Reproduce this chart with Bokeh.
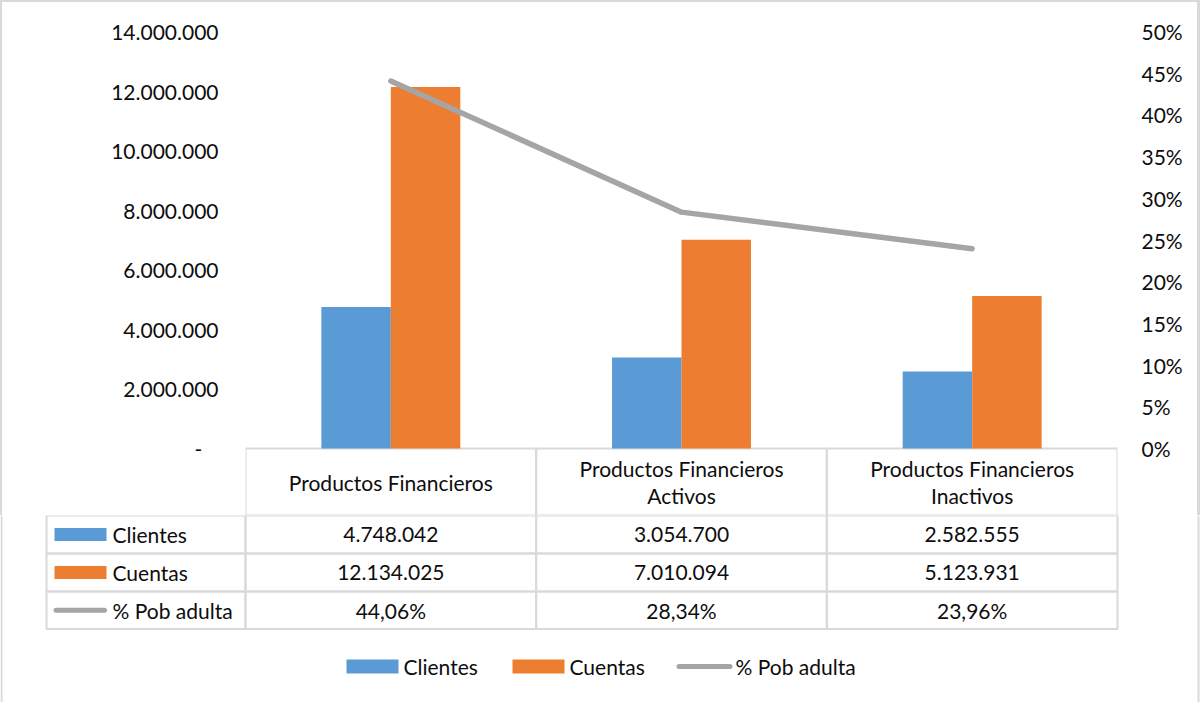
from bokeh.plotting import figure
from bokeh.models import (FactorRange, Range1d, LinearAxis, FixedTicker,
                          ColumnDataSource)
from bokeh.core.properties import value
from bokeh.layouts import column
from bokeh.transform import dodge
from bokeh.embed import file_html
from bokeh.resources import INLINE

# ---------------- data ----------------
categories = ["Productos Financieros",
              "Productos Financieros Activos",
              "Productos Financieros Inactivos"]
clientes = [4748042, 3054700, 2582555]
cuentas = [12134025, 7010094, 5123931]
pob_adulta = [44.06, 28.34, 23.96]
series_names = ["Clientes", "Cuentas", "% Pob adulta"]
left_ticks = [0, 2000000, 4000000, 6000000, 8000000, 10000000, 12000000, 14000000]
right_ticks = [0, 5, 10, 15, 20, 25, 30, 35, 40, 45, 50]

# ---------------- style / layout ----------------
BLUE, ORANGE, GRAY = "#5b9bd5", "#ed7d31", "#a5a5a5"
GRID = "#d9d9d9"
TXT = "#0d0d0d"
FONT = "Lato"
FS = "21px"

W, H = 1200, 702
FL, FR, FT, FB = 245, 1117, 31, 448      # plot frame (px)
HB = 515                                  # bottom of table header row
Y_MAX, P_MAX = 14000000, 50
ext = (HB - FB) / (FB - FT)


def fmt_int(v):
    return "-" if v == 0 else f"{v:,}".replace(",", ".")


def fmt_pct(v):
    return f"{v:.2f}".replace(".", ",") + "%"


# ================= top figure: chart + header row =================
p = figure(width=W, height=HB, x_range=FactorRange(*categories),
           y_range=Range1d(-Y_MAX * ext, Y_MAX), output_backend="svg",
           toolbar_location=None, x_axis_location=None,
           min_border_left=FL, min_border_right=W - FR,
           min_border_top=FT, min_border_bottom=0)
p.frame_align = False
p.x_range.range_padding = 0
p.grid.visible = False
p.outline_line_color = None
p.background_fill_color = "white"
p.border_fill_color = None
p.styles = {"box-shadow": f"inset 2px 2px 0 0 {GRID}, inset -3px 0 0 0 {GRID}"}
p.extra_y_ranges = {"pct": Range1d(-P_MAX * ext, P_MAX), "px": Range1d(HB, FT)}

ya = p.yaxis[0]
ya.ticker = FixedTicker(ticks=left_ticks)
# accounting-style zero: dash padded away from the plot edge
ya.major_label_overrides = {t: (fmt_int(t) + "\u00a0\u00a0\u00a0" if t == 0 else fmt_int(t))
                            for t in left_ticks}
ya.axis_line_color = None
ya.major_tick_line_color = None
ya.minor_tick_line_color = None
ya.major_tick_out = 0
ya.major_tick_in = 0
ya.major_label_standoff = 27
ya.major_label_text_font = FONT
ya.major_label_text_font_size = FS
ya.major_label_text_color = TXT

ra = LinearAxis(y_range_name="pct", ticker=FixedTicker(ticks=right_ticks))
ra.major_label_overrides = {t: f"{t}%" for t in right_ticks}
ra.axis_line_color = None
ra.major_tick_line_color = None
ra.minor_tick_line_color = None
ra.major_tick_out = 0
ra.major_tick_in = 0
ra.major_label_standoff = 24
ra.major_label_text_font = FONT
ra.major_label_text_font_size = FS
ra.major_label_text_color = TXT
p.add_layout(ra, "right")

src = ColumnDataSource(dict(cat=categories, clientes=clientes,
                            cuentas=cuentas, pct=pob_adulta,
                            htop=[FB] * 3, hbot=[HB] * 3))

# header cells (one per category)
p.vbar(x="cat", width=1, top="htop", bottom="hbot", y_range_name="px",
       source=src, fill_alpha=0, line_color=GRID, line_width=2)

BW = 0.239
p.vbar(x=dodge("cat", -BW / 2, range=p.x_range), top="clientes", width=BW,
       source=src, fill_color=BLUE, line_color=None)
p.vbar(x=dodge("cat", BW / 2, range=p.x_range), top="cuentas", width=BW,
       source=src, fill_color=ORANGE, line_color=None)
p.line(x="cat", y="pct", y_range_name="pct", source=src, line_color=GRAY,
       line_width=5.5, line_cap="round", line_join="round")

# header texts (wrapped in two lines when long)
hx, hy, ht = [], [], []
LH = 27
for c in categories:
    words = c.split()
    lines = [" ".join(words[:2]), " ".join(words[2:])] if len(words) > 2 else [c]
    mid = (FB + HB) / 2
    for k, ln in enumerate(lines):
        hx.append(c)
        hy.append(mid + (k - (len(lines) - 1) / 2) * LH)
        ht.append(ln)
p.text(x=hx, y=hy, text=ht, y_range_name="px", text_align="center",
       text_baseline="middle", text_font=value(FONT), text_font_size=value(FS),
       text_color=TXT)

# ================= bottom figure: table body + legend =================
q = figure(width=W, height=H - HB, x_range=Range1d(0, W), y_range=Range1d(H, HB),
           output_backend="svg", toolbar_location=None,
           x_axis_location=None, y_axis_location=None, min_border=0)
q.frame_align = False
q.grid.visible = False
q.outline_line_color = None
q.background_fill_color = "white"
q.border_fill_color = "white"

colw = (FR - FL) / len(categories)
col_x = [FL + i * colw for i in range(len(categories) + 1)]
TL = 46
rows_y = [HB, 553, 591, 628.5]
colors = [BLUE, ORANGE, GRAY]
table_vals = [[fmt_int(v) for v in clientes],
              [fmt_int(v) for v in cuentas],
              [fmt_pct(v) for v in pob_adulta]]

cl, cr, ct, cb = [], [], [], []
tx, ty, tt = [], [], []
for r in range(3):
    t, b = rows_y[r], rows_y[r + 1]
    cy = (t + b) / 2
    edges = [TL] + col_x
    for i in range(4):
        cl.append(edges[i]); cr.append(edges[i + 1]); ct.append(t); cb.append(b)
    for i in range(3):
        tx.append((col_x[i] + col_x[i + 1]) / 2); ty.append(cy); tt.append(table_vals[r][i])

q.quad(left=cl, right=cr, top=ct, bottom=cb, fill_alpha=0,
       line_color=GRID, line_width=2)
q.text(x=tx, y=ty, text=tt, text_align="center", text_baseline="middle",
       text_font=value(FONT), text_font_size=value(FS), text_color=TXT)

# legend keys inside table
row_c = [(rows_y[r] + rows_y[r + 1]) / 2 for r in range(3)]
q.quad(left=[54, 54], right=[106, 106], top=[row_c[0] - 6.5, row_c[1] - 6.5],
       bottom=[row_c[0] + 6.5, row_c[1] + 6.5], fill_color=colors[:2], line_color=None)
q.segment(x0=[55.5], x1=[104], y0=[row_c[2]], y1=[row_c[2]], line_color=GRAY,
          line_width=5, line_cap="round")
q.text(x=[112] * 3, y=row_c, text=series_names, text_align="left",
       text_baseline="middle", text_font=value(FONT), text_font_size=value(FS),
       text_color=TXT)

# bottom legend
LY = 666
q.quad(left=[346, 512], right=[398, 564], top=[LY - 7] * 2, bottom=[LY + 7] * 2,
       fill_color=colors[:2], line_color=None)
q.segment(x0=[678.5], x1=[729.5], y0=[LY], y1=[LY], line_color=GRAY,
          line_width=5, line_cap="round")
q.text(x=[403, 569, 735], y=[LY] * 3, text=series_names, text_align="left",
       text_baseline="middle", text_font=value(FONT), text_font_size=value(FS),
       text_color=TXT)

# chart-area border (left / right edges of the lower part)
q.segment(x0=[1, 1198], x1=[1, 1198], y0=[HB, HB], y1=[H, H],
          line_color=GRID, line_width=2)

layout = column(p, q, spacing=0)

open("out.html", "w").write(file_html(layout, INLINE))
